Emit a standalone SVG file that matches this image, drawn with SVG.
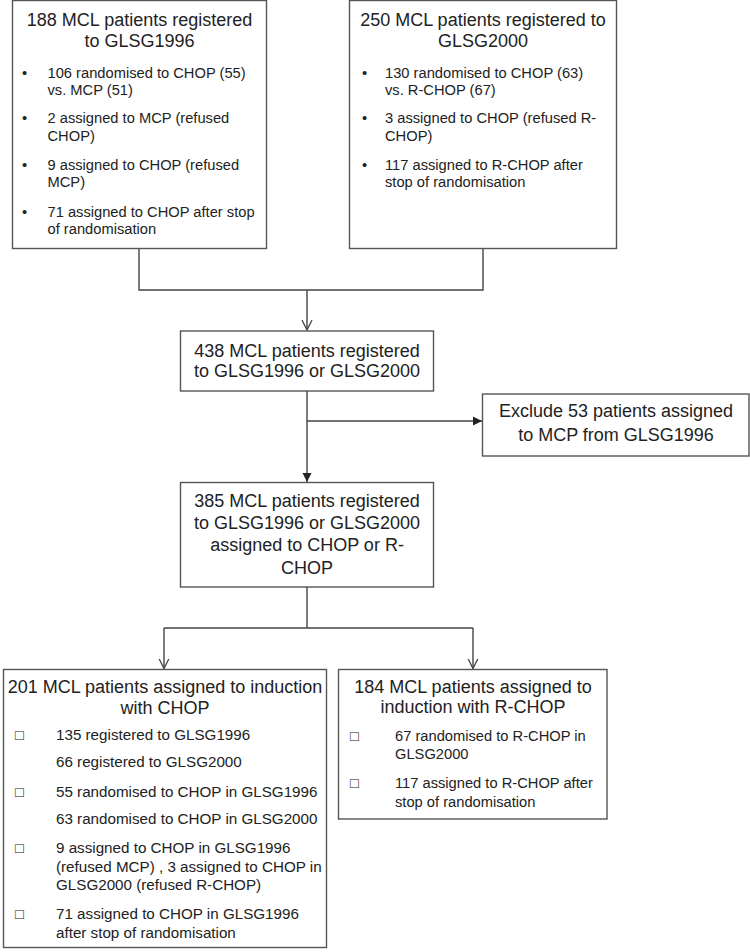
<svg xmlns="http://www.w3.org/2000/svg" width="750" height="952" viewBox="0 0 750 952">
<style>
  .box{fill:#fff;stroke:#555;stroke-width:1.4}
  .t{font-family:"Liberation Sans",Arial,sans-serif;font-size:18px;fill:#222;text-anchor:middle}
  .b{font-family:"Liberation Sans",Arial,sans-serif;font-size:14.7px;fill:#222}
  .b5{font-size:15.2px}
  .con{fill:none;stroke:#444;stroke-width:1.4}
</style>
<defs>
  <marker id="open" markerWidth="12" markerHeight="12" refX="10" refY="5" orient="auto" markerUnits="userSpaceOnUse" viewBox="0 0 12 10">
    <path d="M0,0 L10,5 L0,10" fill="none" stroke="#444" stroke-width="1.3"/>
  </marker>
  <marker id="fill" markerWidth="10" markerHeight="10" refX="9" refY="4.5" orient="auto" markerUnits="userSpaceOnUse" viewBox="0 0 10 9">
    <path d="M0,0 L9,4.5 L0,9 Z" fill="#222"/>
  </marker>
</defs>

<g id="connectors">
  <polyline class="con" points="139,248 139,290 483,290 483,248"/>
  <line class="con" x1="307" y1="290" x2="307" y2="330" marker-end="url(#open)"/>
  <line class="con" x1="307" y1="391" x2="307" y2="482" marker-end="url(#fill)"/>
  <line class="con" x1="307" y1="421" x2="482" y2="421" marker-end="url(#fill)"/>
  <polyline class="con" points="307,587 307,628"/>
  <polyline class="con" points="164,628 473,628"/>
  <line class="con" x1="164" y1="628" x2="164" y2="668.5" marker-end="url(#open)"/>
  <line class="con" x1="473" y1="628" x2="473" y2="668.5" marker-end="url(#open)"/>
</g>

<g id="n1">
  <rect class="box" x="12.5" y="0.5" width="254" height="248"/>
  <text class="t" x="139.5" y="26">188 MCL patients registered</text>
  <text class="t" x="139.5" y="47">to GLSG1996</text>
  <text class="b" x="22" y="78.3">•</text>
  <text class="b" x="47.5" y="78.3">106 randomised to CHOP (55)</text>
  <text class="b" x="47.5" y="95.3">vs. MCP (51)</text>
  <text class="b" x="22" y="123.3">•</text>
  <text class="b" x="47.5" y="123.3">2 assigned to MCP (refused</text>
  <text class="b" x="47.5" y="140.5">CHOP)</text>
  <text class="b" x="22" y="170">•</text>
  <text class="b" x="47.5" y="170">9 assigned to CHOP (refused</text>
  <text class="b" x="47.5" y="187">MCP)</text>
  <text class="b" x="22" y="216.5">•</text>
  <text class="b" x="47.5" y="216.5">71 assigned to CHOP after stop</text>
  <text class="b" x="47.5" y="234">of randomisation</text>
</g>

<g id="n2">
  <rect class="box" x="349.5" y="0.5" width="267" height="248"/>
  <text class="t" x="483" y="26">250 MCL patients registered to</text>
  <text class="t" x="483" y="47">GLSG2000</text>
  <text class="b" x="362" y="78.3">•</text>
  <text class="b" x="385" y="78.3">130 randomised to CHOP (63)</text>
  <text class="b" x="385" y="95.3">vs. R-CHOP (67)</text>
  <text class="b" x="362" y="123.3">•</text>
  <text class="b" x="385" y="123.3">3 assigned to CHOP (refused R-</text>
  <text class="b" x="385" y="140.5">CHOP)</text>
  <text class="b" x="362" y="170">•</text>
  <text class="b" x="385" y="170">117 assigned to R-CHOP after</text>
  <text class="b" x="385" y="187">stop of randomisation</text>
</g>

<g id="n3">
  <rect class="box" x="180.5" y="331" width="253" height="60"/>
  <text class="t" x="307" y="356.5">438 MCL patients registered</text>
  <text class="t" x="307" y="377">to GLSG1996 or GLSG2000</text>
</g>

<g id="n4">
  <rect class="box" x="482.5" y="394" width="266.5" height="62"/>
  <text class="t" x="616" y="417">Exclude 53 patients assigned</text>
  <text class="t" x="616" y="441">to MCP from GLSG1996</text>
</g>

<g id="n5">
  <rect class="box" x="180.5" y="482.5" width="253" height="104.5"/>
  <text class="t" x="307" y="506.7">385 MCL patients registered</text>
  <text class="t" x="307" y="529">to GLSG1996 or GLSG2000</text>
  <text class="t" x="307" y="551.3">assigned to CHOP or R-</text>
  <text class="t" x="307" y="573.5">CHOP</text>
</g>

<g id="n6">
  <rect class="box" x="3.5" y="669.5" width="323" height="278"/>
  <text class="t" x="165" y="693">201 MCL patients assigned to induction</text>
  <text class="t" x="165" y="714">with CHOP</text>
  <text class="b" x="15" y="740">□</text>
  <text class="b b5" x="56" y="740">135 registered to GLSG1996</text>
  <text class="b b5" x="56" y="767.3">66 registered to GLSG2000</text>
  <text class="b" x="15" y="796.7">□</text>
  <text class="b b5" x="56" y="796.7">55 randomised to CHOP in GLSG1996</text>
  <text class="b b5" x="56" y="824">63 randomised to CHOP in GLSG2000</text>
  <text class="b" x="15" y="853">□</text>
  <text class="b b5" x="56" y="853">9 assigned to CHOP in GLSG1996</text>
  <text class="b b5" x="56" y="871.7">(refused MCP) , 3 assigned to CHOP in</text>
  <text class="b b5" x="56" y="890">GLSG2000 (refused R-CHOP)</text>
  <text class="b" x="15" y="919">□</text>
  <text class="b b5" x="56" y="919">71 assigned to CHOP in GLSG1996</text>
  <text class="b b5" x="56" y="937.7">after stop of randomisation</text>
</g>

<g id="n7">
  <rect class="box" x="338.5" y="669.5" width="268.5" height="149.5"/>
  <text class="t" x="473" y="692.7">184 MCL patients assigned to</text>
  <text class="t" x="473" y="712.7">induction with R-CHOP</text>
  <text class="b" x="350" y="740.7">□</text>
  <text class="b" x="395" y="740.7">67 randomised to R-CHOP in</text>
  <text class="b" x="395" y="759">GLSG2000</text>
  <text class="b" x="350" y="788.3">□</text>
  <text class="b" x="395" y="788.3">117 assigned to R-CHOP after</text>
  <text class="b" x="395" y="806.7">stop of randomisation</text>
</g>
</svg>
